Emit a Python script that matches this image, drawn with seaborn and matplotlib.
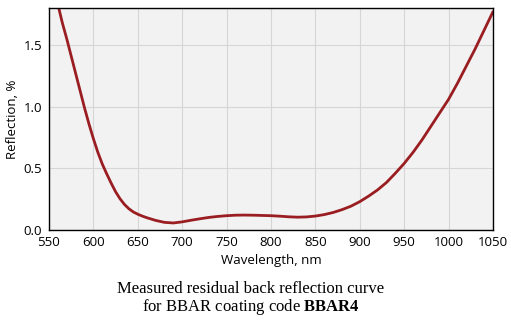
import matplotlib
matplotlib.use("Agg")
import matplotlib.pyplot as plt
import seaborn as sns
import pandas as pd

wavelength = [561, 565, 570, 575, 580, 585, 590, 595, 600, 605, 610, 615, 620, 625, 630,
              635, 640, 645, 650, 655, 660, 670, 680, 690, 700, 710, 720, 730, 740, 750,
              760, 770, 780, 790, 800, 810, 820, 830, 840, 850, 860, 870, 880, 890, 900,
              910, 920, 930, 940, 950, 960, 970, 980, 990, 1000, 1010, 1020, 1030, 1040, 1050]
reflection = [1.80, 1.68, 1.55, 1.41, 1.27, 1.13, 0.99, 0.86, 0.74, 0.63, 0.535, 0.455, 0.38, 0.31, 0.253,
              0.207, 0.172, 0.146, 0.128, 0.113, 0.100, 0.078, 0.062, 0.057, 0.066, 0.079, 0.091, 0.102, 0.11, 0.116,
              0.12, 0.121, 0.12, 0.118, 0.116, 0.112, 0.107, 0.104, 0.106, 0.113, 0.125, 0.142, 0.165, 0.193, 0.23,
              0.275, 0.325, 0.385, 0.46, 0.54, 0.63, 0.73, 0.84, 0.95, 1.06, 1.19, 1.33, 1.47, 1.62, 1.77]
xticks = [550, 600, 650, 700, 750, 800, 850, 900, 950, 1000, 1050]
yticks = [0.0, 0.5, 1.0, 1.5]

df = pd.DataFrame({"Wavelength": wavelength, "Reflection": reflection})

sns.set_theme(style="white")
plt.rcParams['font.family'] = ['Open Sans', 'DejaVu Sans']
plt.rcParams['mathtext.fontset'] = 'custom'
plt.rcParams['mathtext.rm'] = 'Liberation Serif'
plt.rcParams['mathtext.bf'] = 'Liberation Serif:bold'

fig = plt.figure(figsize=(5.11, 3.22), dpi=100)
ax = fig.add_axes([49/511, 92/322, 444/511, 222/322])
ax.set_facecolor("#f2f2f2")

sns.lineplot(data=df, x="Wavelength", y="Reflection", ax=ax, color="#9a1d22", linewidth=2.0)

ax.set_xlim(550, 1050)
ax.set_ylim(0, 1.8)
ax.set_xticks(xticks)
ax.set_xticklabels([str(t) for t in xticks])
ax.set_yticks(yticks)
ax.set_yticklabels([f"{t:.1f}" for t in yticks])
ax.grid(True, color="#d6d6d6", linewidth=0.8)
ax.set_axisbelow(True)
for s in ax.spines.values():
    s.set_color("black")
    s.set_linewidth(1.0)
ax.tick_params(axis="x", direction="in", length=3, width=0.8, color="black",
               labelcolor="black", labelsize=9.5, pad=4)
ax.tick_params(axis="y", direction="out", length=3, width=0.8, color="black",
               labelcolor="black", labelsize=9.5, pad=2)
ax.set_xlabel("Wavelength, nm", fontsize=9.5, labelpad=4, color="black")
ax.set_ylabel("Reflection, %", fontsize=9.5, labelpad=3, color="black")

serif = ["Liberation Serif", "DejaVu Serif"]
fig.text(251/511, 1 - 289/322, "Measured residual back reflection curve",
         ha="center", va="center", fontsize=12, family=serif, color="black")
fig.text(251/511, 1 - 307/322, "for BBAR coating code $\\mathbf{BBAR4}$",
         ha="center", va="center", fontsize=12, family=serif, color="black")

fig.savefig("out.png", dpi=100)
